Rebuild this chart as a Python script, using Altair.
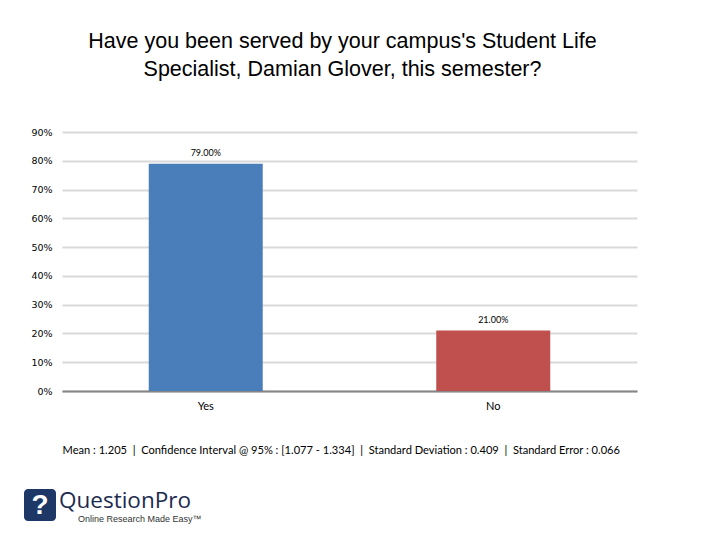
import altair as alt
import pandas as pd

categories = ["Yes", "No"]
values = [0.79, 0.21]
value_labels = ["79.00%", "21.00%"]
colors = ["#4A7EBB", "#C0504D"]
y_ticks = [0, 0.1, 0.2, 0.3, 0.4, 0.5, 0.6, 0.7, 0.8, 0.9]

title_lines = [
    "Have you been served by your campus's Student Life",
    "Specialist, Damian Glover, this semester?",
]
sep = "\u00a0\u00a0|\u00a0\u00a0"
footer = sep.join([
    "Mean : 1.205",
    "Confidence Interval @ 95% : [1.077 - 1.334]",
    "Standard Deviation : 0.409",
    "Standard Error : 0.066",
])
brand = "QuestionPro"
tagline = "Online Research Made Easy\u2122"

df = pd.DataFrame({"answer": categories, "share": values, "label": value_labels})

x_enc = alt.X(
    "answer:N",
    sort=categories,
    scale=alt.Scale(paddingInner=0, paddingOuter=0),
    axis=alt.Axis(
        title=footer,
        titleFont="Lato",
        titleFontSize=11.1,
        titleFontWeight="normal",
        titleColor="#000000",
        titleX=0,
        titleY=59,
        titleAlign="left",
        titleBaseline="middle",
        labelAngle=0,
        labelFont="Lato",
        labelFontSize=11,
        labelColor="#000000",
        labelPadding=9,
        ticks=False,
        domainColor="#868686",
        domainWidth=2,
    ),
)
y_enc = alt.Y(
    "share:Q",
    scale=alt.Scale(domain=[0, 0.9], nice=False, zero=True),
    axis=alt.Axis(
        title=None,
        format=".0%",
        values=y_ticks,
        labelOverlap=False,
        labelFlush=False,
        labelFont="DejaVu Sans",
        labelFontSize=9.5,
        labelColor="#000000",
        labelPadding=10,
        ticks=False,
        domain=False,
        gridColor="#d9d9d9",
        gridWidth=2,
    ),
)

base = alt.Chart(df).encode(x=x_enc, y=y_enc)
bars = base.mark_bar(size=114).encode(
    color=alt.Color("answer:N", scale=alt.Scale(domain=categories, range=colors), legend=None),
)
text = base.mark_text(dy=-11, fontSize=9, font="Lato", color="#000000").encode(text="label:N")

one = alt.Data(values=[{"k": 1}])
icon = alt.Chart(one).mark_rect(color="#1d3766", cornerRadius=4, clip=False).encode(
    x=alt.value(-38), x2=alt.value(-6), y=alt.value(357), y2=alt.value(389)
)
icon_q = alt.Chart(one).mark_text(
    color="white", fontSize=28, fontWeight="bold", font="Liberation Sans", baseline="middle", clip=False
).encode(x=alt.value(-22), y=alt.value(374), text=alt.value("?"))
brand_t = alt.Chart(one).mark_text(
    color="#1d2b4f", fontSize=22.5, font="Open Sans", align="left", baseline="alphabetic", clip=False
).encode(x=alt.value(-3), y=alt.value(376), text=alt.value(brand))
tag_t = alt.Chart(one).mark_text(
    color="#333333", fontSize=9, font="Liberation Sans", align="left", baseline="middle", clip=False
).encode(x=alt.value(16), y=alt.value(387), text=alt.value(tagline))

chart = alt.layer(bars, text, icon, icon_q, brand_t, tag_t).properties(
    width=575,
    height=259,
    padding={"left": 54, "top": 124, "right": 75, "bottom": 141},
    autosize=alt.AutoSizeParams(type="none"),
    title=alt.TitleParams(
        text=title_lines,
        font="Liberation Sans",
        fontSize=21.5,
        fontWeight="normal",
        color="#000000",
        lineHeight=28,
        anchor="middle",
        offset=47,
        dx=-7,
    ),
).configure_view(stroke=None)

chart.save("out.html", embed_options={"renderer": "svg", "actions": False})
